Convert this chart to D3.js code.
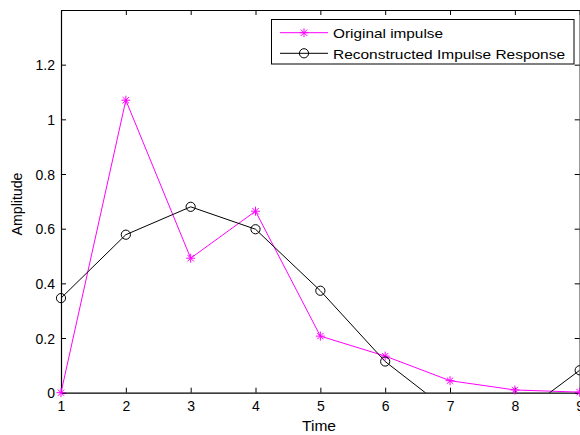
<!DOCTYPE html>
<html>
<head>
<meta charset="utf-8">
<script src="https://cdn.jsdelivr.net/npm/d3@7"></script>
<style>
  html, body { margin: 0; padding: 0; background: #fff; overflow: hidden; }
  svg { display: block; }
  text { font-family: "Liberation Sans", Arial, sans-serif; fill: #000; }
</style>
</head>
<body>
<svg id="chart" width="580" height="435"></svg>
<script>
// ---- data ----
const times = [1, 2, 3, 4, 5, 6, 7, 8, 9];
const originalImpulse = [0, 1.07, 0.492, 0.664, 0.207, 0.134, 0.044, 0.010, 0.002];
const reconstructed = [0.346, 0.578, 0.680, 0.598, 0.373, 0.114, -0.07, -0.095, 0.082];
const xTicks = [1, 2, 3, 4, 5, 6, 7, 8, 9];
const yTicks = [0, 0.2, 0.4, 0.6, 0.8, 1, 1.2];
const seriesNames = ["Original impulse", "Reconstructed Impulse Response"];
const xLabel = "Time";
const yLabel = "Amplitude";

// ---- layout ----
const L = 61, R = 579.7, T = 10, B = 392.7;
const svg = d3.select("#chart");
const x = d3.scaleLinear().domain([1, 9]).range([L, R]);
const y = d3.scaleLinear().domain([0, 1.4]).range([B, T]);
const magenta = "#ff00ff";

svg.append("defs").append("clipPath").attr("id", "plotclip")
  .append("rect").attr("x", L).attr("y", T).attr("width", R - L).attr("height", B - T);

// axes with inward ticks
const tickLen = 5;
const gx = svg.append("g").attr("transform", `translate(0,${B})`)
  .call(d3.axisBottom(x).tickValues(xTicks).tickSizeInner(-tickLen).tickSizeOuter(0).tickPadding(8).tickFormat(d3.format("d")));
const gxTop = svg.append("g").attr("transform", `translate(0,${T})`)
  .call(d3.axisTop(x).tickValues(xTicks).tickSizeInner(-tickLen).tickSizeOuter(0).tickFormat(""));
const gy = svg.append("g").attr("transform", `translate(${L},0)`)
  .call(d3.axisLeft(y).tickValues(yTicks).tickSizeInner(-tickLen).tickSizeOuter(0).tickPadding(6).tickFormat(d => d3.format("")(+d.toFixed(1))));
const gyR = svg.append("g").attr("transform", `translate(${R},0)`)
  .call(d3.axisRight(y).tickValues(yTicks).tickSizeInner(-tickLen).tickSizeOuter(0).tickFormat(""));

[gx, gxTop, gy, gyR].forEach(g => {
  g.select(".domain").attr("stroke", "#000").attr("stroke-width", 1.2);
  g.selectAll(".tick line").attr("stroke", "#000").attr("stroke-width", 1);
  g.selectAll("text").attr("font-size", 14).attr("font-family", "Liberation Sans, Arial, sans-serif").attr("fill", "#000");
});
gx.selectAll("text").attr("dy", "0.71em").attr("y", 8);
gy.selectAll("text").attr("dy", "0.36em");

// series lines
const line = d3.line().x((d, i) => x(times[i])).y(d => y(d));
const plot = svg.append("g").attr("clip-path", "url(#plotclip)");
plot.append("path").datum(originalImpulse).attr("d", line)
  .attr("fill", "none").attr("stroke", magenta).attr("stroke-width", 1);
plot.append("path").datum(reconstructed).attr("d", line)
  .attr("fill", "none").attr("stroke", "#000").attr("stroke-width", 1);

// markers (only for in-range points)
function starPath(cx, cy, r) {
  const d = r * Math.SQRT1_2;
  return `M${cx - r},${cy}H${cx + r}M${cx},${cy - r}V${cy + r}` +
         `M${cx - d},${cy - d}L${cx + d},${cy + d}M${cx - d},${cy + d}L${cx + d},${cy - d}`;
}
const inRange = v => v >= 0 && v <= 1.4;
svg.append("g").selectAll("path")
  .data(originalImpulse.map((v, i) => [times[i], v]).filter(p => inRange(p[1])))
  .join("path")
  .attr("d", p => starPath(x(p[0]), y(p[1]), 4.5))
  .attr("stroke", magenta).attr("stroke-width", 1).attr("fill", "none");
svg.append("g").selectAll("circle")
  .data(reconstructed.map((v, i) => [times[i], v]).filter(p => inRange(p[1])))
  .join("circle")
  .attr("cx", p => x(p[0])).attr("cy", p => y(p[1])).attr("r", 4.6)
  .attr("stroke", "#000").attr("stroke-width", 1).attr("fill", "none");

// axis labels
svg.append("text").attr("x", 319).attr("y", 431).attr("text-anchor", "middle")
  .attr("font-size", 14).attr("textLength", 34).attr("lengthAdjust", "spacingAndGlyphs").text(xLabel);
svg.append("text").attr("transform", "translate(22,204) rotate(-90)").attr("text-anchor", "middle")
  .attr("font-size", 14).attr("textLength", 63).attr("lengthAdjust", "spacingAndGlyphs").text(yLabel);

// legend
const lg = svg.append("g");
lg.append("rect").attr("x", 271.5).attr("y", 19.5).attr("width", 302.5).attr("height", 44.5)
  .attr("fill", "#fff").attr("stroke", "#000").attr("stroke-width", 1);
const rows = [
  { name: seriesNames[0], color: magenta, yl: 32.7, yb: 38.3, tl: 110, mk: "star" },
  { name: seriesNames[1], color: "#000", yl: 53.3, yb: 58.5, tl: 232, mk: "circle" }
];
rows.forEach(r => {
  lg.append("line").attr("x1", 280).attr("x2", 328).attr("y1", r.yl).attr("y2", r.yl)
    .attr("stroke", r.color).attr("stroke-width", 1);
  if (r.mk === "star") {
    lg.append("path").attr("d", starPath(304, r.yl, 4.5)).attr("stroke", r.color).attr("fill", "none");
  } else {
    lg.append("circle").attr("cx", 304).attr("cy", r.yl).attr("r", 4.6).attr("stroke", r.color).attr("fill", "none");
  }
  lg.append("text").attr("x", 333).attr("y", r.yb).attr("font-size", 13.5)
    .attr("textLength", r.tl).attr("lengthAdjust", "spacingAndGlyphs").text(r.name);
});
</script>
</body>
</html>
